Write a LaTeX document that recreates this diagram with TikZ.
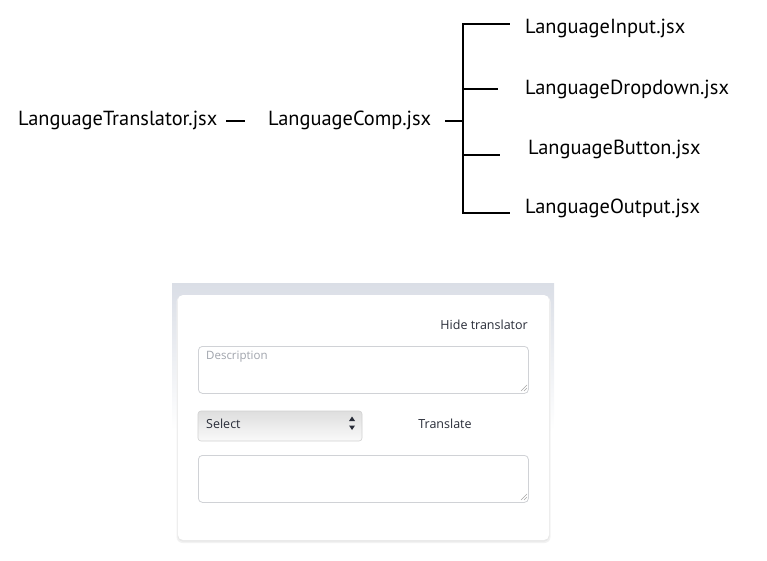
\documentclass[tikz,border=0pt]{standalone}
\usepackage{fontspec}
\setmainfont{PT Sans}
\newfontfamily\uifont{Open Sans}
\usetikzlibrary{shadings}
\definecolor{uitext}{RGB}{40,44,56}
\definecolor{placeholder}{RGB}{160,164,172}
\definecolor{boxline}{RGB}{208,210,214}
\definecolor{bandtop}{RGB}{218,222,230}
\tikzset{
  file/.style={anchor=west, inner sep=0pt, font=\fontsize{20.4}{24}\selectfont},
  tree/.style={line width=1.9pt, black},
  uilabel/.style={inner sep=0pt, font=\uifont\fontsize{12.5}{14}\selectfont, text=uitext},
  field/.style={draw=boxline, line width=0.8pt, rounded corners=4pt, fill=white},
  grip/.style={draw=gray!70, line width=0.5pt},
}
\begin{document}
\begin{tikzpicture}[x=1pt,y=-1pt]
\useasboundingbox (0,0) rectangle (767,561);
% --- tree ---
\node[file] (lt) at (18,120) {LanguageTranslator.jsx};
\node[file] (lc) at (268,120) {LanguageComp.jsx};
\node[file] (li) at (525,28) {LanguageInput.jsx};
\node[file] (ld) at (525,89) {LanguageDropdown.jsx};
\node[file] (lb) at (528,149) {LanguageButton.jsx};
\node[file] (lo) at (525,208) {LanguageOutput.jsx};
\coordinate (jt) at (463,24);
\coordinate (jm) at (463,121);
\coordinate (jb) at (463,213);
\draw[tree] (226,121) -- ([xshift=-23pt]lc.west |- 0,121);
\draw[tree] (445,121) -- (jm);
\draw[tree] (jt) -- (jb);
\draw[tree] ([xshift=-1pt]jt) -- ([xshift=-15pt]li.west |- jt);
\draw[tree] (463,89) -- ([xshift=-27pt]ld.west |- 0,89);
\draw[tree] (463,155) -- ([xshift=-28pt]lb.west |- 0,155);
\draw[tree] ([xshift=-1pt]jb) -- ([xshift=-15pt]lo.west |- jb);
% --- UI panel ---
\shade[top color=bandtop, bottom color=white] (172,283) rectangle (554,430);
\fill[black!5,rounded corners=6pt] (176.5,296) rectangle (550.5,543);
\fill[black!9,rounded corners=5pt] (177.5,297) rectangle (549.5,541.5);
\fill[white,rounded corners=5pt] (178,295) rectangle (549,540);
\node[uilabel, anchor=east] (hide) at (528,325) {Hide translator};
\node[field, minimum width=330pt, minimum height=47pt, anchor=north west] (desc) at (198,346) {};
\node[uilabel, anchor=west, text=placeholder, font=\uifont\fontsize{11.5}{13}\selectfont] (ph) at (206,357) {Description};
\draw[grip] (527,385) -- (521,391) (527,388) -- (524,391);
\shade[rounded corners=3pt, top color=black!13, bottom color=black!2, draw=black!18, line width=0.6pt] (198,411) rectangle (362,441);
\node[inner sep=0pt, minimum width=164pt, minimum height=30pt, anchor=north west] (sel) at (198,411) {};
\node[uilabel, anchor=west] (selt) at (206,423.5) {Select};
\fill[uitext] (349,421) -- (355,421) -- (352,416.5) -- cycle;
\fill[uitext] (349,425.5) -- (355,425.5) -- (352,430) -- cycle;
\node[uilabel] (tr) at (445,423.5) {Translate};
\node[field, minimum width=330pt, minimum height=47pt, anchor=north west] (out) at (198,455) {};
\draw[grip] (527,494) -- (521,500) (527,497) -- (524,500);
\end{tikzpicture}
\end{document}
